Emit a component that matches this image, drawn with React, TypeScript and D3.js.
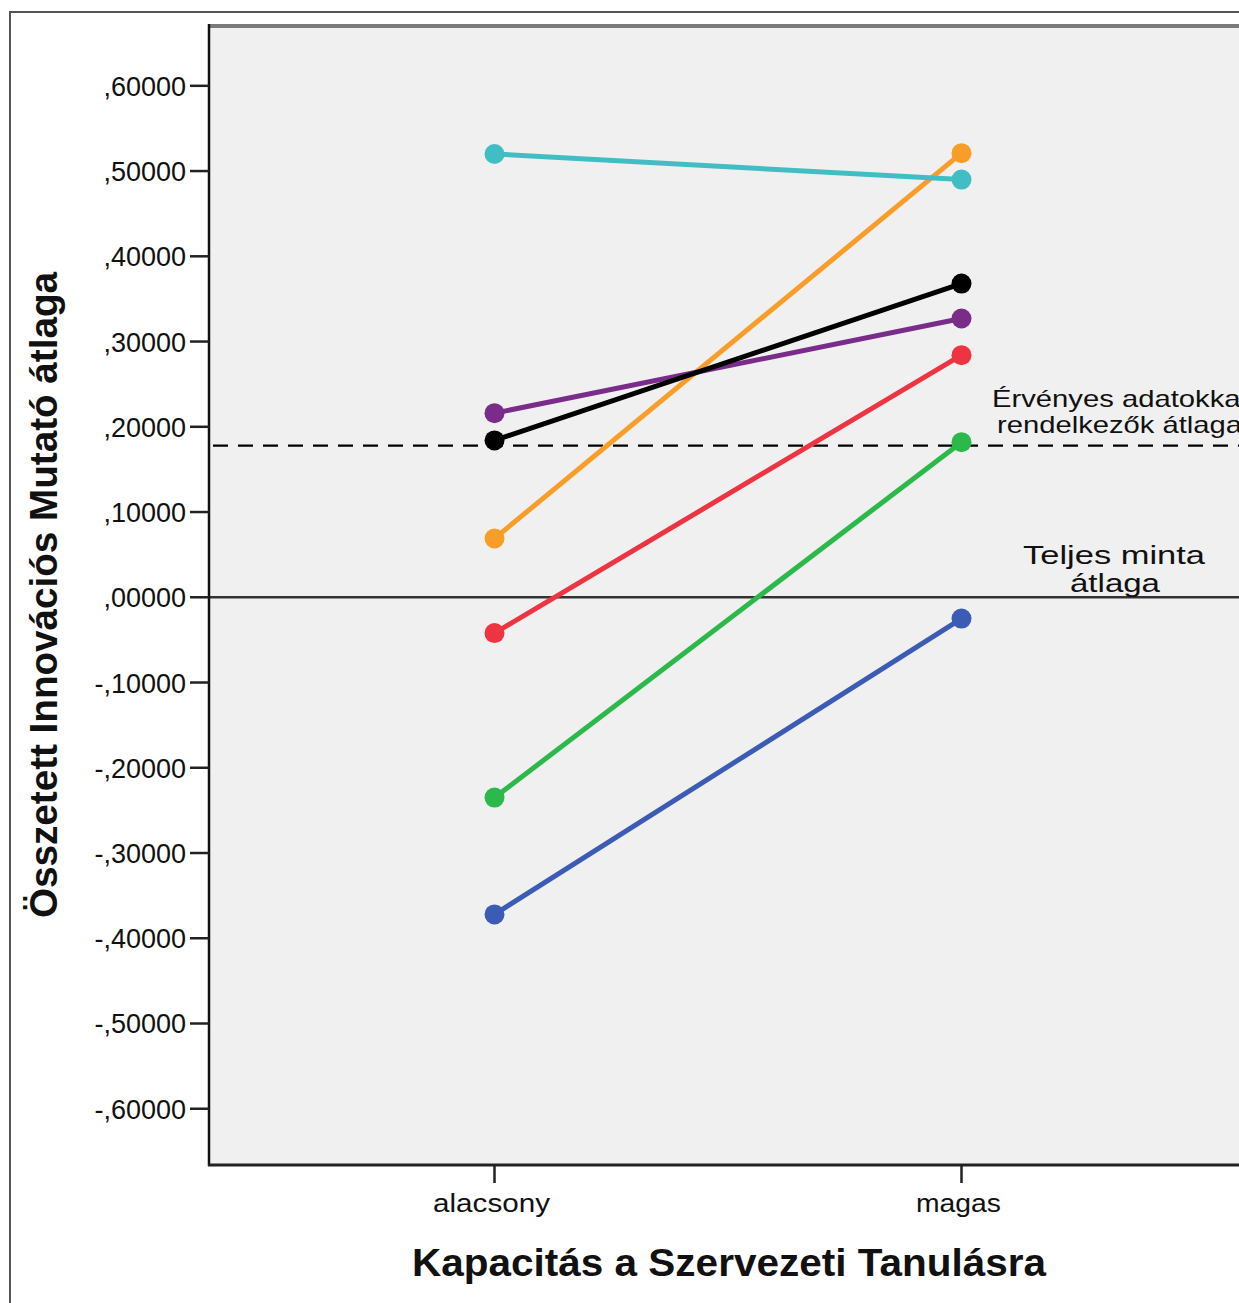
import React from "react";
import * as d3 from "d3";

const categories = ["alacsony", "magas"];
const yTicks = [0.6, 0.5, 0.4, 0.3, 0.2, 0.1, 0, -0.1, -0.2, -0.3, -0.4, -0.5, -0.6];
const yTickLabels = [",60000", ",50000", ",40000", ",30000", ",20000", ",10000", ",00000", "-,10000", "-,20000", "-,30000", "-,40000", "-,50000", "-,60000"];

const seriesNames = ["blue", "green", "red", "orange", "purple", "black", "cyan"];
const seriesColors = ["#3c5bb4", "#2db84b", "#ee3442", "#f89e28", "#7a2c8a", "#000000", "#40bec4"];
const seriesAlacsony = [-0.372, -0.235, -0.042, 0.069, 0.216, 0.184, 0.520];
const seriesMagas = [-0.025, 0.182, 0.284, 0.521, 0.327, 0.368, 0.490];

const validMean = 0.178;
const totalMean = 0;

const xTitle = "Kapacitás a Szervezeti Tanulásra";
const yTitle = "Összetett Innovációs Mutató átlaga";

export default function App() {
  const W = 1239, H = 1303;
  const plotL = 209, plotT = 27, plotB = 1165, plotR = 1260;
  const y = d3.scaleLinear().domain([-0.666, 0.669]).range([plotB, plotT]);
  const x = d3.scalePoint<string>().domain(categories).range([494.5, 961.5]);
  const line = d3.line<[string, number]>().x(d => x(d[0]) as number).y(d => y(d[1]));
  const font = "'Liberation Sans', Arial, sans-serif";

  return (
    <svg width={W} height={H} style={{ position: "absolute", left: 0, top: 0, background: "#fff" }}>
      {/* outer frame */}
      <rect x={10} y={12} width={W + 20} height={H + 20} fill="#fff" stroke="#555" strokeWidth={2} />
      {/* plot background */}
      <rect x={plotL} y={plotT} width={plotR - plotL} height={plotB - plotT} fill="#f0f0f0" />
      {/* top border */}
      <line x1={plotL} x2={plotR} y1={plotT - 1} y2={plotT - 1} stroke="#7a7a7a" strokeWidth={4} />
      {/* reference lines */}
      <line x1={plotL} x2={plotR} y1={y(totalMean)} y2={y(totalMean)} stroke="#333" strokeWidth={2.5} />
      <line x1={plotL} x2={plotR} y1={y(validMean)} y2={y(validMean)} stroke="#000" strokeWidth={2.2} strokeDasharray="15 10" strokeDashoffset={-4} />
      {/* annotations */}
      <g fontFamily={font} fill="#111">
        <text x={992} y={407} fontSize={24} textLength={255} lengthAdjust="spacingAndGlyphs">Érvényes adatokkal</text>
        <text x={997} y={433} fontSize={24} textLength={245} lengthAdjust="spacingAndGlyphs">rendelkezők átlaga</text>
        <text x={1114} y={564} fontSize={25} textAnchor="middle" textLength={182} lengthAdjust="spacingAndGlyphs">Teljes minta</text>
        <text x={1115} y={592} fontSize={25} textAnchor="middle" textLength={90} lengthAdjust="spacingAndGlyphs">átlaga</text>
      </g>
      {/* series */}
      {seriesNames.map((n, i) => {
        const pts: [string, number][] = [["alacsony", seriesAlacsony[i]], ["magas", seriesMagas[i]]];
        return (
          <g key={n}>
            <path d={line(pts) as string} fill="none" stroke={seriesColors[i]} strokeWidth={5} />
            {pts.map(p => (
              <circle key={p[0]} cx={x(p[0]) as number} cy={y(p[1])} r={10} fill={seriesColors[i]} />
            ))}
          </g>
        );
      })}
      {/* axes */}
      <line x1={plotL} x2={plotL} y1={plotT - 3} y2={plotB + 1} stroke="#111" strokeWidth={2.5} />
      <line x1={plotL - 1} x2={plotR} y1={plotB} y2={plotB} stroke="#222" strokeWidth={3} />
      <g fontFamily={font} fill="#111">
        {yTicks.map((t, i) => (
          <g key={t}>
            <line x1={190} x2={plotL} y1={y(t)} y2={y(t)} stroke="#222" strokeWidth={2.5} />
            <text x={186} y={y(t) + 10} fontSize={27} textAnchor="end">{yTickLabels[i]}</text>
          </g>
        ))}
        {categories.map(c => (
          <g key={c}>
            <line x1={x(c) as number} x2={x(c) as number} y1={plotB} y2={plotB + 18} stroke="#222" strokeWidth={2.5} />
            <text x={(x(c) as number) - 3} y={1212} fontSize={26} textAnchor="middle" textLength={c === "alacsony" ? 117 : 85} lengthAdjust="spacingAndGlyphs">{c}</text>
          </g>
        ))}
        <text x={729} y={1276} fontSize={39} fontWeight="bold" textAnchor="middle" textLength={634} lengthAdjust="spacingAndGlyphs">{xTitle}</text>
        <text transform="translate(57,595) rotate(-90)" fontSize={38} fontWeight="bold" textAnchor="middle" textLength={646} lengthAdjust="spacingAndGlyphs">{yTitle}</text>
      </g>
    </svg>
  );
}
